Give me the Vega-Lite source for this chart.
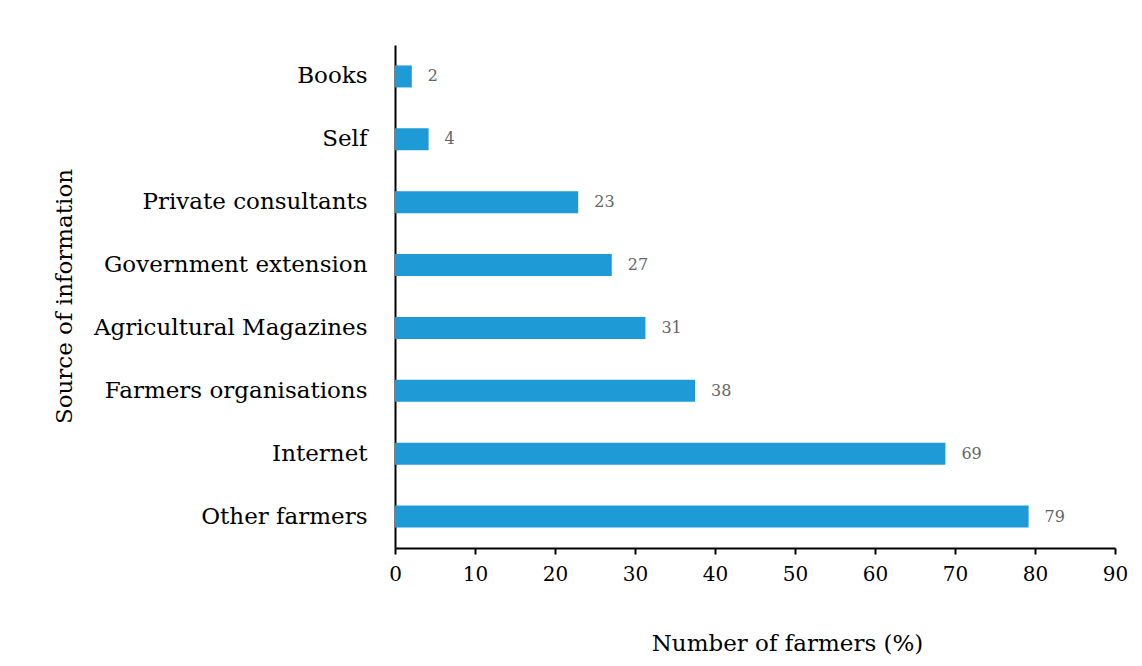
{
  "$schema": "https://vega.github.io/schema/vega-lite/v6.json",
  "autosize": {"type": "none"},
  "width": 720,
  "height": 503,
  "padding": {"left": 395, "top": 45, "right": 27, "bottom": 118},
  "background": "white",
  "config": {
    "view": {"stroke": null},
    "font": "DejaVu Serif"
  },
  "data": {
    "values": [
      {"source": "Books", "value": 2.1},
      {"source": "Self", "value": 4.2},
      {"source": "Private consultants", "value": 22.9},
      {"source": "Government extension", "value": 27.1},
      {"source": "Agricultural Magazines", "value": 31.3},
      {"source": "Farmers organisations", "value": 37.5},
      {"source": "Internet", "value": 68.8},
      {"source": "Other farmers", "value": 79.2}
    ]
  },
  "encoding": {
    "y": {
      "field": "source",
      "type": "nominal",
      "sort": null,
      "scale": {"paddingInner": 0.65, "paddingOuter": 0.325},
      "axis": {
        "title": "Source of information",
        "titleFontSize": 23,
        "titleFontWeight": "normal",
        "titleColor": "black",
        "titleX": -324,
        "titleY": 251,
        "titleAngle": -90,
        "titleBaseline": "alphabetic",
        "labelFontSize": 23,
        "labelLimit": 400,
        "labelColor": "black",
        "labelPadding": 28,
        "ticks": false,
        "domainColor": "black",
        "domainWidth": 2,
        "grid": false
      }
    },
    "x": {
      "field": "value",
      "type": "quantitative",
      "scale": {"domain": [0, 90], "nice": false},
      "axis": {
        "title": "Number of farmers (%)",
        "values": [0, 10, 20, 30, 40, 50, 60, 70, 80, 90],
        "titleFontSize": 23,
        "titleFontWeight": "normal",
        "titleColor": "black",
        "titleX": 392,
        "titleY": 102,
        "titleBaseline": "alphabetic",
        "labelFontSize": 20,
        "labelFlush": false,
        "labelColor": "black",
        "labelPadding": 10,
        "tickColor": "black",
        "tickWidth": 2,
        "tickSize": 6,
        "domainColor": "black",
        "domainWidth": 2,
        "grid": false
      }
    }
  },
  "layer": [
    {"mark": {"type": "bar", "color": "#1e9bd7"}},
    {
      "mark": {"type": "text", "align": "left", "dx": 16, "fontSize": 16, "color": "#666666"},
      "encoding": {"text": {"field": "value", "type": "quantitative", "format": ".0f"}}
    }
  ]
}
